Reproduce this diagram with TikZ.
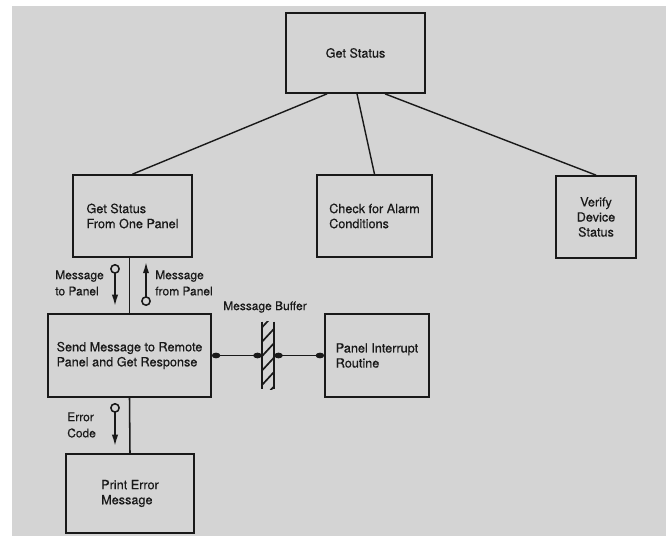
\documentclass[tikz,border=0pt]{standalone}
\usepackage{fontspec}
\setmainfont{TeX Gyre Heros}[FakeBold=0.4]
\usetikzlibrary{arrows.meta}
\definecolor{paper}{gray}{0.83}
\definecolor{ink}{gray}{0.1}

\begin{document}
\begin{tikzpicture}[x=0.025cm,y=-0.025cm,
		box/.style={draw=ink,line width=1.2pt,rectangle,align=left,text=ink,inner sep=0pt,font=\fontsize{9}{10.7}\selectfont},
		tag/.style={align=left,text=ink,inner sep=0pt,font=\fontsize{8.5}{11.5}\selectfont},
		link/.style={draw=ink,line width=1pt},
		couple/.style={draw=ink,line width=1.1pt,{Circle[open,length=7pt]}-{Latex[length=8pt,width=4.5pt]}},
		flow/.style={draw=ink,line width=1.1pt,{Circle[length=6pt,width=4pt]}-{Circle[length=6pt,width=4pt]}}]
		\useasboundingbox (0,0) rectangle (670,536);
		\fill[paper] (12,6) rectangle (666,536);

		\node[box,minimum width=3.475cm,minimum height=2cm] (status) at (355.5,53) {\raisebox{-0.1cm}{Get Status}};
		\node[box,minimum width=2.975cm,minimum height=2.05cm] (onepanel) at (132.5,216) {Get Status\\From One Panel};
		\node[box,minimum width=2.875cm,minimum height=2.05cm] (alarm) at (374.5,216) {Check for Alarm\\Conditions};
		\node[box,minimum width=2cm,minimum height=2.05cm,align=center] (verify) at (596,217) {Verify\\Device\\Status};
		\node[box,minimum width=4.075cm,minimum height=2.075cm] (send) at (129.5,355.5) {Send Message to Remote\\Panel and Get Response};
		\node[box,minimum width=2.6cm,minimum height=2.075cm] (interrupt) at (377,355.5) {Panel Interrupt\\Routine};
		\node[box,minimum width=3.2cm,minimum height=1.975cm] (printerr) at (130,493.5) {Print Error\\Message};

		\node[minimum width=0.3cm,minimum height=1.675cm,inner sep=0pt,path picture={
			\foreach \k in {-1,...,4}
				\draw[ink,line width=1.2pt] ([yshift=\k*0.36cm+0.1cm]path picture bounding box.south west) -- ++(12,-13);
			}] (buffer) at (268,355.5) {};
		\draw[link,line width=1.2pt] (buffer.north west) -- (buffer.south west) (buffer.north east) -- (buffer.south east);
		\node[tag] (buflabel) at (265,307) {Message Buffer};

		\draw[link] ([xshift=-0.7125cm]status.south) -- (onepanel.north);
		\draw[link] ([xshift=0.0375cm]status.south) -- (alarm.north);
		\draw[link] ([xshift=0.7375cm]status.south) -- (verify.north);

		\draw[link,line width=1.1pt] (send.north |- onepanel.south) -- (send.north);
		\draw[link,line width=1.1pt] (send.south) -- (printerr.north);
		\draw[flow] (send.east) -- (buffer.west);
		\draw[flow] (buffer.east) -- (interrupt.west);

		\coordinate (tocirc) at (115,264);
		\coordinate (totip) at (115,306);
		\draw[couple] (tocirc) -- (totip);
		\node[tag,anchor=west] (tolabel) at (55,283) {Message\\to Panel};

		\coordinate (fromcirc) at (146,306);
		\coordinate (fromtip) at (146,262);
		\draw[couple] (fromcirc) -- (fromtip);
		\node[tag,anchor=west] (fromlabel) at (155,283) {Message\\from Panel};

		\coordinate (errcirc) at (115,403);
		\coordinate (errtip) at (115,446);
		\draw[couple] (errcirc) -- (errtip);
		\node[tag,anchor=west] (errlabel) at (67,425) {Error\\Code};
	\end{tikzpicture}
\end{document}
